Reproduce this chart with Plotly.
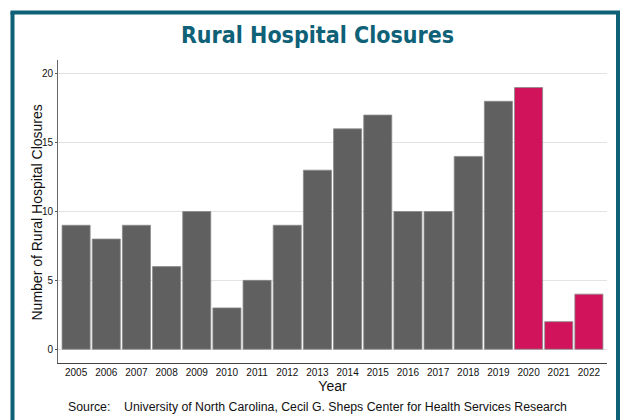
import plotly.graph_objects as go

years = [str(y) for y in range(2005, 2023)]
closures = [9, 8, 9, 6, 10, 3, 5, 9, 13, 16, 17, 10, 10, 14, 18, 19, 2, 4]
gray = "#606060"
red = "#d0135a"
colors = [gray] * 15 + [red] * 3
y_ticks = [0, 5, 10, 15, 20]

L, R, T, B = 58, 13, 60, 57
W, H = 620, 420
pw, ph = W - L - R, H - T - B

def px(x):
    return (x - L) / pw

def py(y):
    return (H - B - y) / ph

fig = go.Figure(go.Bar(
    x=list(range(len(years))), y=closures,
    marker=dict(color=colors, line=dict(color="#8a8a8a", width=0.8)),
))

teal = "#0e6177"
shapes = [
    dict(type="line", xref="paper", yref="paper", x0=px(12.5), x1=px(12.5), y0=py(12), y1=py(425), line=dict(color=teal, width=4)),
    dict(type="line", xref="paper", yref="paper", x0=px(10.5), x1=px(625), y0=py(12.5), y1=py(12.5), line=dict(color=teal, width=4)),
    dict(type="line", xref="paper", yref="paper", x0=px(618), x1=px(618), y0=py(12), y1=py(425), line=dict(color=teal, width=4)),
]

fig.update_layout(
    width=W, height=H,
    margin=dict(l=L, r=R, t=T, b=B),
    paper_bgcolor="white", plot_bgcolor="white",
    bargap=0.07,
    showlegend=False,
    shapes=shapes,
    font=dict(family="Liberation Sans, Arial, sans-serif", color="#111"),
    title=dict(text="<b>Rural Hospital Closures</b>", x=px(317.5), xanchor="center", xref="paper", y=1 - 35 / H, yanchor="middle",
               font=dict(family="Liberation Sans Narrow, DejaVu Sans Condensed, sans-serif", size=23, color=teal)),
    xaxis=dict(
        tickmode="array", tickvals=list(range(len(years))), ticktext=years,
        range=[-0.6, 17.6], showgrid=False, showline=True, linecolor="#444", linewidth=1,
        ticks="", tickfont=dict(size=10, color="#111"),
        title=dict(text="Year", font=dict(size=14, color="#111"), standoff=4),
    ),
    yaxis=dict(
        range=[-1, 21], tickvals=y_ticks, showgrid=True, gridcolor="#e3e3e3", gridwidth=1,
        showline=True, linecolor="#666", linewidth=1, ticks="outside", ticklen=2, tickcolor="#555",
        tickfont=dict(size=10, color="#111"), zeroline=False, ticklabelstandoff=0,
    ),
    annotations=[
        dict(
            text="Source:&nbsp;&nbsp;&nbsp;&nbsp;University of North Carolina, Cecil G. Sheps Center for Health Services Research",
            xref="paper", yref="paper", x=px(66), y=py(407), xanchor="left", yanchor="middle",
            showarrow=False, font=dict(size=12.3, color="#111"),
        ),
        dict(
            text="Number of Rural Hospital Closures", textangle=-90,
            xref="paper", yref="paper", x=px(36.5), y=py(213), xanchor="center", yanchor="middle",
            showarrow=False, font=dict(size=14, color="#111"),
        ),
    ],
)

fig.write_html("out.html")
